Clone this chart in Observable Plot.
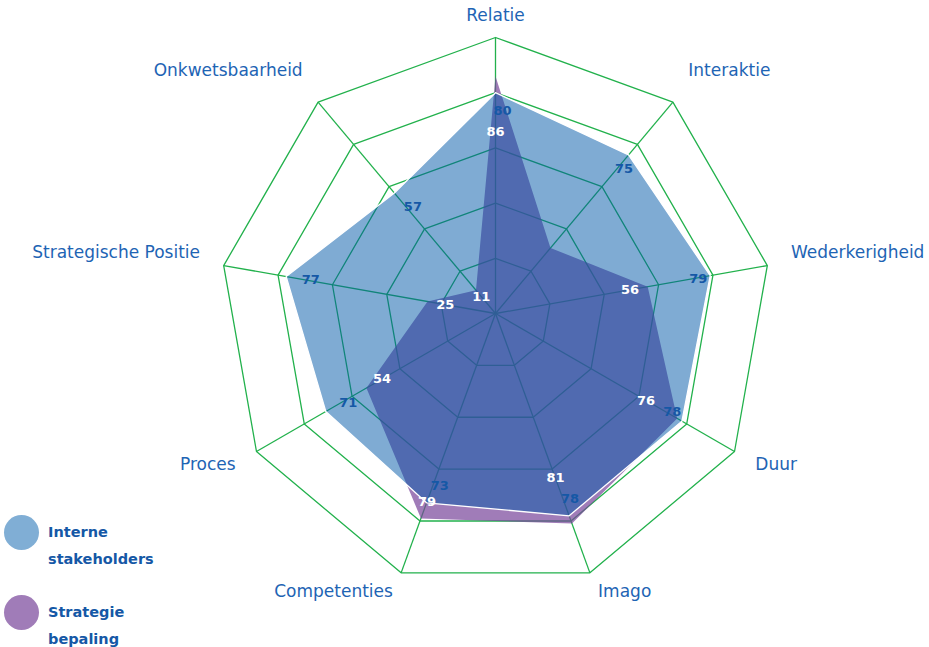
<!DOCTYPE html>
<html>
<head>
<meta charset="utf-8">
<script src="https://cdn.jsdelivr.net/npm/d3@7"></script>
<script src="https://cdn.jsdelivr.net/npm/@observablehq/plot@0.6"></script>
<style>
  html, body { margin: 0; padding: 0; background: #fff; overflow: hidden; }
  #wrap { position: relative; width: 929px; height: 647px; font-family: "DejaVu Sans", Verdana, sans-serif; }
  #legend { position: absolute; left: 0; top: 0; }
  .item { position: absolute; left: 4px; }
  .sw { position: absolute; left: 0; width: 35px; height: 35px; border-radius: 50%; }
  .lt { position: absolute; left: 44px; color: #1558a6; font-weight: bold; font-size: 14.5px; line-height: 27px; white-space: nowrap; }
</style>
</head>
<body>
<div id="wrap"></div>
<script>
// ---- data ----
const axes = ["Relatie", "Interaktie", "Wederkerigheid", "Duur", "Imago", "Competenties", "Proces", "Strategische Positie", "Onkwetsbaarheid"];
const interne = [80, 75, 79, 78, 78, 73, 71, 77, 57];
const strategie = [86, 31, 56, 76, 81, 79, 54, 25, 11];
const interneLabels = ["80", "75", "79", "78", "78", "73", "71", "77", "57"];
const strategieLabels = ["86", "", "56", "76", "81", "79", "54", "25", "11"];
const rings = [20, 40, 60, 80, 100];
const seriesNames = ["Interne stakeholders", "Strategie bepaling"];

// ---- geometry helpers ----
const n = axes.length;
const ang = i => (i * 2 * Math.PI) / n;
const px = (v, i) => v * Math.sin(ang(i));
const py = (v, i) => v * Math.cos(ang(i));

const W = 929, H = 647;
const cx = 495, cy = 313, R = 276; // center & outer radius in pixels
const k = R / 100;
const xDomain = [-cx / k, (W - cx) / k];
const yDomain = [-(H - cy) / k, cy / k];
const toPx = (r, i) => [cx + k * px(r, i), cy - k * py(r, i)];
const fromPx = ([X, Y]) => ({x: (X - cx) / k, y: (cy - Y) / k});

const gridPts = rings.flatMap(r => axes.map((a, i) => ({ring: r, x: px(r, i), y: py(r, i)})));
const spokes = axes.map((a, i) => ({x1: 0, y1: 0, x2: px(100, i), y2: py(100, i)}));
const bluePoly = interne.map((v, i) => ({x: px(v, i), y: py(v, i)}));
const purplePoly = strategie.map((v, i) => ({x: px(v, i), y: py(v, i)}));

// ---- value label placement (computed from values) ----
function distToLine(P, A, B) {
  const dx = B[0] - A[0], dy = B[1] - A[1];
  return Math.abs(dx * (P[1] - A[1]) - dy * (P[0] - A[0])) / Math.hypot(dx, dy);
}
function edgeClearance(vals, i, P) {
  const V = toPx(vals[i], i);
  const ip = (i + n - 1) % n, inx = (i + 1) % n;
  return Math.min(distToLine(P, V, toPx(vals[ip], ip)), distToLine(P, V, toPx(vals[inx], inx)));
}
const blueDx = 7;
const blueLab = interne.map((v, i) => {
  let r = v - 6.5, P;
  while (true) {
    const [X, Y] = toPx(r, i);
    P = [X + blueDx, Y];
    if (edgeClearance(interne, i, P) >= 11 || r < 10) break;
    r -= 0.5;
  }
  return {P, r, t: interneLabels[i]};
});
const purpleLab = [];
strategie.forEach((v, i) => {
  if (!strategieLabels[i]) return;
  let r = Math.max(v - 6.5, 8);
  while (r > 5) {
    if (edgeClearance(strategie, i, toPx(r, i)) >= 5) break;
    r -= 0.5;
  }
  let P = toPx(r, i);
  const B = blueLab[i].P;
  if (Math.abs(P[0] - B[0]) < 18 && Math.abs(P[1] - B[1]) < 13) {
    r = blueLab[i].r - 8;
    P = toPx(r, i);
  }
  purpleLab.push({P, t: strategieLabels[i]});
});

// ---- axis labels ----
const L = 300 / k;
const axisLab = axes.map((a, i) => {
  const s = Math.sin(ang(i)), c = Math.cos(ang(i));
  const anchor = s > 0.1 ? "start" : s < -0.1 ? "end" : "middle";
  const shift = anchor === "middle" ? 2 : c > 0.1 ? -(7 + 8 * c) : c < -0.7 ? -4 : 1;
  const [X, Y] = toPx(L, i);
  return {name: a, anchor, ...fromPx([X, Y + shift])};
});

const green = "#22b14c";
const labelBlue = "#1e64b4";

const chart = Plot.plot({
  width: W,
  height: H,
  margin: 0,
  x: {domain: xDomain, axis: null},
  y: {domain: yDomain, axis: null},
  style: {fontFamily: "'DejaVu Sans', Verdana, sans-serif", background: "#fff"},
  marks: [
    Plot.line(gridPts, {x: "x", y: "y", z: "ring", curve: "linear-closed", stroke: green, strokeWidth: 1.3}),
    Plot.link(spokes, {x1: "x1", y1: "y1", x2: "x2", y2: "y2", stroke: green, strokeWidth: 1.3}),
    Plot.line(purplePoly, {x: "x", y: "y", curve: "linear-closed", fill: "#77449a", fillOpacity: 0.7, stroke: "none"}),
    Plot.line(bluePoly, {x: "x", y: "y", curve: "linear-closed", fill: "#0057a7", fillOpacity: 0.5, stroke: "#fff", strokeWidth: 1.3}),
    ...["start", "middle", "end"].map(an =>
      Plot.text(axisLab.filter(d => d.anchor === an), {
        x: "x", y: "y", text: "name", textAnchor: an,
        fill: labelBlue, fontSize: 17
      })
    ),
    Plot.text(blueLab.map(d => ({...fromPx(d.P), t: d.t})), {x: "x", y: "y", text: "t", fill: "#1558a6", fontSize: 13, fontWeight: "bold"}),
    Plot.text(purpleLab.map(d => ({...fromPx(d.P), t: d.t})), {x: "x", y: "y", text: "t", fill: "#fff", fontSize: 13, fontWeight: "bold"})
  ]
});

const wrap = document.getElementById("wrap");
wrap.appendChild(chart);

// legend (HTML, overlaid bottom-left)
const legend = document.createElement("div");
legend.id = "legend";
const legendColors = ["#80aed5", "#a07cb8"];
const legendLines = [["Interne", "stakeholders"], ["Strategie", "bepaling"]];
const legendTops = [515, 595];
seriesNames.forEach((s, j) => {
  const item = document.createElement("div");
  item.className = "item";
  item.style.top = legendTops[j] + "px";
  const sw = document.createElement("div");
  sw.className = "sw";
  sw.style.background = legendColors[j];
  item.appendChild(sw);
  const lt = document.createElement("div");
  lt.className = "lt";
  lt.style.top = "4px";
  lt.innerHTML = legendLines[j].join("<br>");
  item.appendChild(lt);
  legend.appendChild(item);
});
wrap.appendChild(legend);
</script>
</body>
</html>
